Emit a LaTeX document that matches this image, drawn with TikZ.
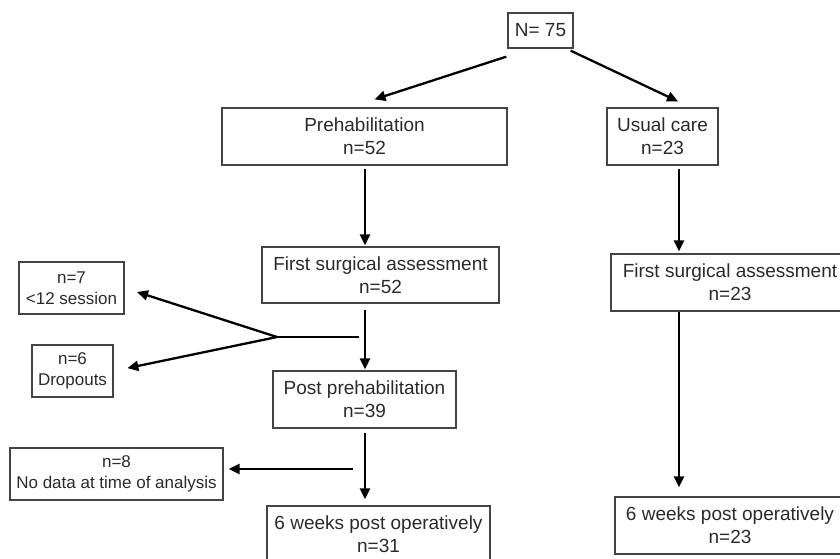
\documentclass[tikz,border=0pt]{standalone}
\usepackage{fontspec}
\setmainfont{Liberation Sans}
\usetikzlibrary{arrows.meta}
\definecolor{boxgray}{HTML}{444444}
\definecolor{txtgray}{HTML}{2A2A2A}

\begin{document}
\begin{tikzpicture}[
    x=1pt, y=-1pt,
    box/.style={rectangle, draw=boxgray, line width=1.3pt, inner sep=0pt, align=center, text=txtgray, minimum height=57pt, font=\fontsize{19}{23}\selectfont},
    smallbox/.style={box, minimum height=52pt, font=\fontsize{17}{21}\selectfont},
    arrow/.style={-{Triangle[length=11pt,width=10pt]}, line width=2.3pt},
    line/.style={line width=2.3pt}
]
\useasboundingbox (0,0) rectangle (840,558);

% total sample
\node[box, minimum width=65pt, minimum height=35pt] (total) at (540.5,30.5) {N= 75};

% prehabilitation arm
\node[box, minimum width=285pt] (prehab) at (364.5,136.5) {Prehabilitation\\n=52};
\node[box, minimum width=237pt, minimum height=56pt] (assess) at (380.5,275) {First surgical assessment\\n=52};
\node[box, minimum width=183pt] (post) at (364.5,399.5) {Post prehabilitation\\n=39};
\node[box, minimum width=223pt] (weeks) at (378.5,534.5) {6 weeks post operatively\\n=31};

% usual care arm
\node[box, minimum width=111pt] (usual) at (662.5,136.5) {Usual care\\n=23};
\node[box, minimum width=238pt] (uassess) at (730,282.5) {First surgical assessment\\n=23};
\node[box, minimum width=230pt] (uweeks) at (730,525.5) {6 weeks post operatively\\n=23};

% excluded
\node[smallbox, minimum width=105pt] (session) at (71.5,288) {n=7\\<12 session};
\node[smallbox, minimum width=81pt] (dropouts) at (72.5,371) {n=6\\Dropouts};
\node[smallbox, minimum width=213pt] (nodata) at (116.5,474) {n=8\\No data at time of analysis};

% column lines
\coordinate (lcol) at (365,0);
\coordinate (rcol) at (679,0);
\coordinate (split) at (277,337);
\coordinate (splitr) at (359,337);
\coordinate (datasplit) at (353,469);

% Arrows
\draw[arrow] ([xshift=-1pt,yshift=-8pt]total.south west) -- ([xshift=10pt,yshift=8pt]prehab.north);
\draw[arrow] ([xshift=-3pt,yshift=-2pt]total.south east) -- ([xshift=15.5pt,yshift=6pt]usual.north);

\draw[arrow, shorten <=3pt, shorten >=1pt] (prehab.south -| lcol) -- (assess.north -| lcol);
\draw[arrow, shorten <=6pt, shorten >=1pt] (assess.south -| lcol) -- (post.north -| lcol);
\draw[arrow, shorten <=4pt, shorten >=6pt] (post.south -| lcol) -- (weeks.north -| lcol);

\draw[arrow, shorten <=3pt, shorten >=2pt] (usual.south -| rcol) -- (uassess.north -| rcol);
\draw[arrow, shorten >=9pt] (uassess.south -| rcol) -- (uweeks.north -| rcol);

\draw[line] (splitr) -- (split);
\draw[arrow, shorten >=13pt] (split) -- (session.east);
\draw[arrow, shorten >=14pt] (split) -- (dropouts.east);
\draw[arrow, shorten >=5pt] (datasplit) -- (datasplit -| nodata.east);

\end{tikzpicture}
\end{document}
